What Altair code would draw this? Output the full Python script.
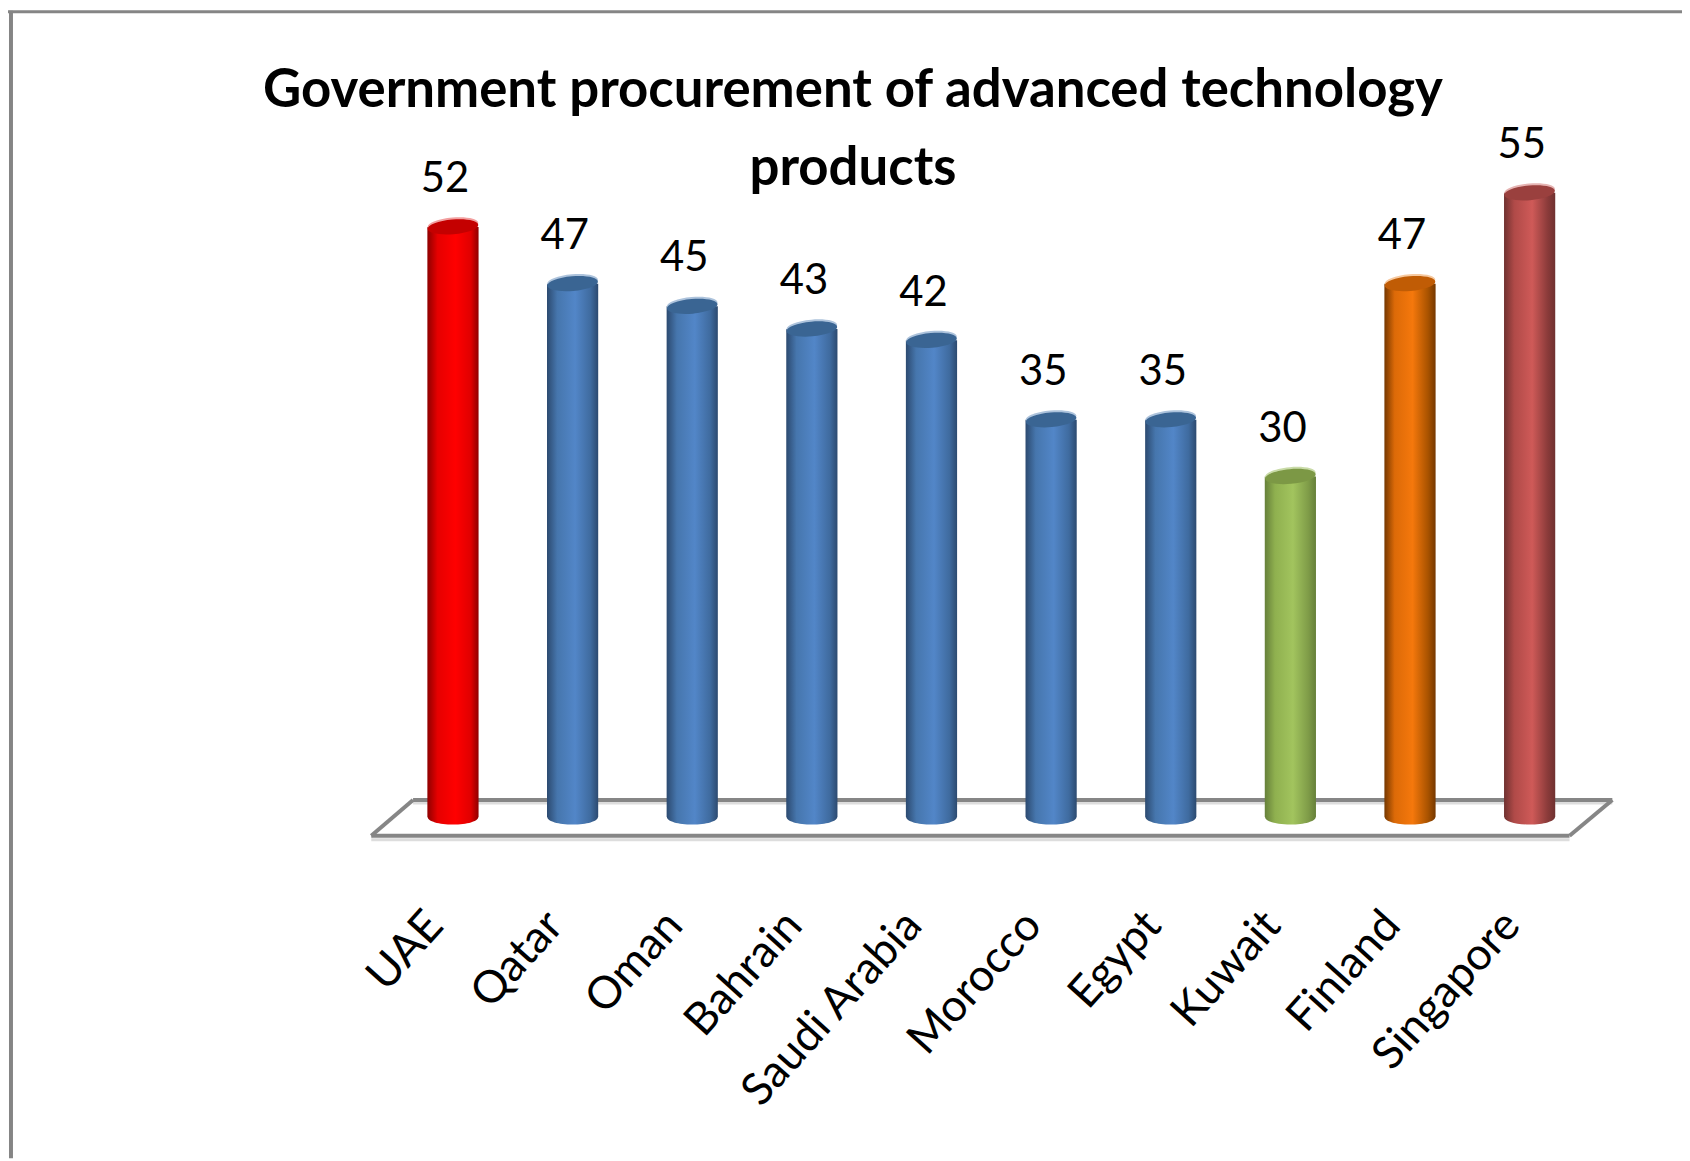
import altair as alt
import pandas as pd

categories = ["UAE", "Qatar", "Oman", "Bahrain", "Saudi Arabia", "Morocco", "Egypt", "Kuwait", "Finland", "Singapore"]
values = [52, 47, 45, 43, 42, 35, 35, 30, 47, 55]
groups = ["red", "blue", "blue", "blue", "blue", "blue", "blue", "green", "orange", "rust"]
title_lines = ["Government procurement of advanced technology", "products"]

# group: edge dark, shade, centre, right shade, cap colour, cap highlight
palette = {
    "red": ("#8f0000", "#e60000", "#ff0000", "#e00000", "#c40000", "#f2a0a0"),
    "blue": ("#2c4a70", "#4676ad", "#5286c8", "#3f6b9f", "#3a6593", "#adc3dc"),
    "green": ("#66803a", "#8fb04f", "#a2c45e", "#7f9c48", "#7c9845", "#c9dba8"),
    "orange": ("#763800", "#dc6a08", "#f5780c", "#a95300", "#c05c05", "#f6c9a0"),
    "rust": ("#6f3130", "#b04a48", "#cf5a58", "#8b3b3a", "#9a403e", "#e6b4b3"),
}

FONT = "Lato"
TOP_ELLIPSE = "M-1,0 A1,0.29 0 1,1 1,0 A1,0.29 0 1,1 -1,0 Z"
BOTTOM_ARC = "M-1,0 A1,0.3 0 0,0 1,0 Z"
BAR_SIZE = 51 * 51

df = pd.DataFrame({"country": categories, "value": values, "group": groups, "base": [0] * len(values)})

x = alt.X(
    "country:N",
    sort=categories,
    title=None,
    scale=alt.Scale(domain=categories, range=[387, 1589], paddingInner=0.572, paddingOuter=0.286),
    axis=alt.Axis(
        labelAngle=312, labelAlign="right", labelBaseline="middle", labelFontSize=45,
        labelFont=FONT, labelColor="#000000", labelPadding=27, labelOffset=-18, labelLimit=500,
        domain=False, ticks=False, grid=False,
    ),
)
yscale = alt.Scale(domain=[0, 60], range=[810, 126])
y = alt.Y("value:Q", title=None, scale=yscale, axis=None)
ybase = alt.Y("base:Q", title=None, scale=yscale, axis=None)


def gradient(c):
    return alt.Gradient(
        gradient="linear", x1=0, y1=0, x2=1, y2=0,
        stops=[
            alt.GradientStop(color=c[0], offset=0),
            alt.GradientStop(color=c[1], offset=0.2),
            alt.GradientStop(color=c[2], offset=0.55),
            alt.GradientStop(color=c[3], offset=0.85),
            alt.GradientStop(color=c[0], offset=1),
        ],
    )


def rule(x1, x2, y1, y2, color="#868686", w=4):
    return alt.Chart(df.head(1)).mark_rule(color=color, strokeWidth=w).encode(
        x=alt.value(x1), x2=alt.value(x2), y=alt.value(y1), y2=alt.value(y2)
    )


layers = [
    rule(3, 3, 0, 1153, "#858585", 4),
    rule(0, 1682, 1, 1, "#858585", 3),
    rule(407, 1612, 796, 796, "#dddddd", 3),
    rule(365, 1569, 833, 833, "#dddddd", 3),
    rule(407, 1612, 793, 793),
    rule(365, 1569, 829, 829),
    rule(365, 407, 829, 793, "#868686", 4),
    rule(1569, 1612, 829, 793, "#868686", 4),
]

for name, c in palette.items():
    sub = alt.Chart(df).transform_filter(alt.datum.group == name)
    g = gradient(c)
    layers.append(sub.mark_point(shape=BOTTOM_ARC, size=BAR_SIZE, filled=True, fill=g, opacity=1, strokeWidth=0).encode(x=x, y=ybase))
    layers.append(sub.mark_bar(fill=g, stroke=None).encode(x=x, y=y, y2=alt.Y2("base:Q")))
    layers.append(sub.mark_point(shape=TOP_ELLIPSE, size=BAR_SIZE, filled=True, fill=c[5], opacity=1, strokeWidth=0, angle=355, yOffset=-2).encode(x=x, y=y))
    layers.append(sub.mark_point(shape=TOP_ELLIPSE, size=BAR_SIZE, filled=True, fill=c[4], opacity=1, strokeWidth=0, angle=355).encode(x=x, y=y))

layers.append(
    alt.Chart(df).mark_text(font=FONT, fontSize=42, color="#000000", dx=-8, dy=-48, baseline="middle", align="center").encode(
        x=x, y=y, text=alt.Text("value:Q")
    )
)

chart = (
    alt.layer(*layers)
    .properties(
        width=1682,
        height=884,
        padding={"left": 0, "top": 0, "right": 0, "bottom": 269},
        autosize=alt.AutoSizeParams(type="none"),
        background="#ffffff",
        title=alt.TitleParams(
            text=title_lines, font=FONT, fontSize=53, fontWeight="bold", color="#000000",
            anchor="middle", align="center", baseline="middle", lineHeight=78, offset=0, dx=8, dy=214,
        ),
    )
    .configure_view(stroke=None)
)

chart.save("out.html", embed_options={"renderer": "svg", "actions": False})
